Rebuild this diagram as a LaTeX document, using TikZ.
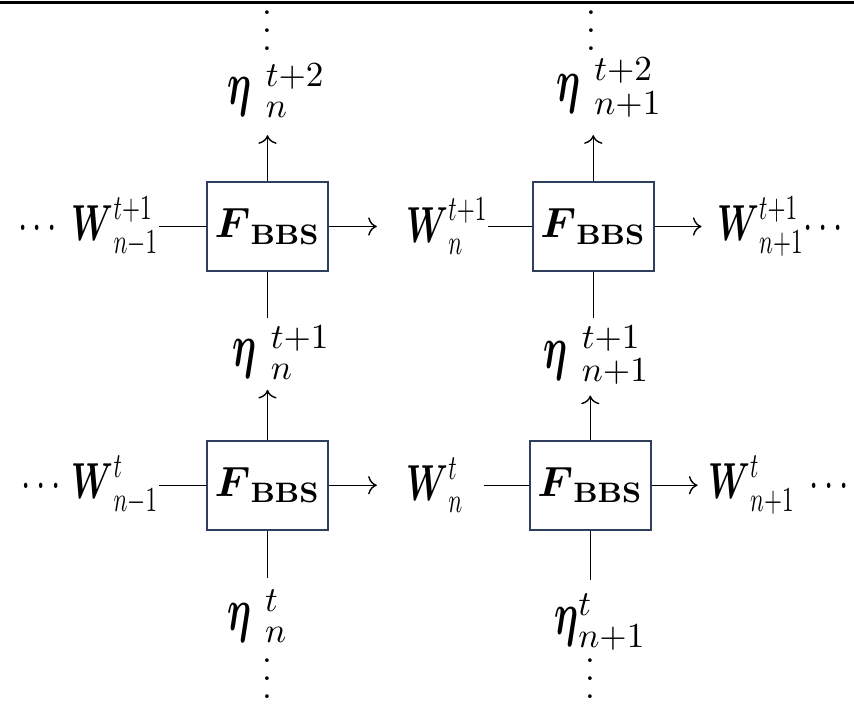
\documentclass[tikz,border=0pt]{standalone}
\usepackage{amsmath,amssymb}
\usepackage{graphicx}
\usetikzlibrary{arrows.meta,positioning,calc}
\definecolor{boxedge}{HTML}{2E3F5E}
\newcommand{\coldots}{\vbox{\baselineskip=0.18cm\lineskiplimit=0pt\hbox{.}\hbox{.}\hbox{.}}}
\newcommand{\narrow}[1]{\scalebox{0.66}[1]{$#1$}}
\newcommand{\bigeta}{\mbox{\scalebox{0.62}[1]{\LARGE$\boldsymbol{\eta}$}}}
\newcommand{\bW}{\boldsymbol{W}}

\begin{document}
\begin{tikzpicture}[>=To,
  bbs/.style={draw=boxedge,line width=0.5pt,minimum width=1.21cm,minimum height=0.89cm,inner sep=0pt,font=\large},
  lab/.style={inner sep=0pt,font=\Large},
  vd/.style={inner sep=0pt}]
\useasboundingbox (0,0) rectangle (8.54,7.04);
\draw[line width=0.9pt] (0,7.015) -- (8.54,7.015);
\node[bbs] (b1) at (2.675,4.775) {$\boldsymbol{F}_{\mathbf{BBS}}$};
\node[bbs] (b2) [right=2.03cm of b1] {$\boldsymbol{F}_{\mathbf{BBS}}$};
\node[bbs] (b3) [below=1.68cm of b1] {$\boldsymbol{F}_{\mathbf{BBS}}$};
\node[bbs] (b4) [right=2.00cm of b3] {$\boldsymbol{F}_{\mathbf{BBS}}$};
\node[lab] (wl1) [left=0.47cm of b1]  {\narrow{\cdots\;\bW^{t+1}_{n-1}}};
\node[lab] (wm1) [right=0.77cm of b1] {\narrow{\bW^{t+1}_{n}}};
\node[lab] (wr1) [right=0.62cm of b2] {\narrow{\bW^{t+1}_{n+1}\!\cdots}};
\node[lab] (wl0) [left=0.47cm of b3]  {\narrow{\cdots\,\bW^{t}_{n-1}}};
\node[lab] (wm0) [right=0.77cm of b3] {\narrow{\bW^{t}_{n}}};
\node[lab] (wr0) [right=0.56cm of b4] {\narrow{\bW^{t}_{n+1}\;\cdots}};
\node[lab] (e2n) [above=0.63cm of b1,xshift=0.09cm]  {$\bigeta\;{}^{t+2}_{n}$};
\node[lab] (e2m) [above=0.63cm of b2,xshift=0.16cm]  {$\bigeta\;{}^{t+2}_{n+1}$};
\node[lab] (e1n) [below=0.53cm of b1,xshift=0.14cm]  {$\bigeta\;{}^{t+1}_{n}$};
\node[lab] (e1m) [below=0.53cm of b2,xshift=0.035cm] {$\bigeta\;{}^{t+1}_{n+1}$};
\node[lab] (e0n) [below=0.59cm of b3,xshift=-0.10cm] {$\bigeta\;{}^{t}_{n}$};
\node[lab] (e0m) [below=0.63cm of b4,xshift=0.10cm]  {$\bigeta^{t}_{n+1}$};
\node[vd] (d1) at (2.675,6.73)  {\coldots};
\node[vd] (d2) at (5.91,6.73)   {\coldots};
\node[vd] (d3) at (2.675,0.255) {\coldots};
\node[vd] (d4) at (5.90,0.255)  {\coldots};
\draw (wl1) -- (b1);
\draw[->,shorten >=0.29cm] (b1) -- (wm1);
\draw (wm1) -- (b2);
\draw[->,shorten >=0.15cm] (b2) -- (wr1);
\draw (wl0) -- (b3);
\draw[->,shorten >=0.29cm] (b3) -- (wm0);
\draw[shorten <=0.20cm] (wm0) -- (b4);
\draw[->,shorten >=0.10cm] (b4) -- (wr0);
\draw[->,shorten >=0.17cm] (b1.north) -- (b1.north |- e2n.south);
\draw[->,shorten >=0.17cm] (b2.north) -- (b2.north |- e2m.south);
\draw[shorten >=0.07cm] (b1.south) -- (b1.south |- e1n.north);
\draw[shorten >=0.07cm] (b2.south) -- (b2.south |- e1m.north);
\draw[->,shorten >=0.10cm] (b3.north) -- (b3.north |- e1n.south);
\draw[->,shorten >=0.10cm] (b4.north) -- (b4.north |- e1m.south);
\draw[shorten >=0.12cm] (b3.south) -- (b3.south |- e0n.north);
\draw[shorten >=0.14cm] (b4.south) -- (b4.south |- e0m.north);
\end{tikzpicture}
\end{document}
